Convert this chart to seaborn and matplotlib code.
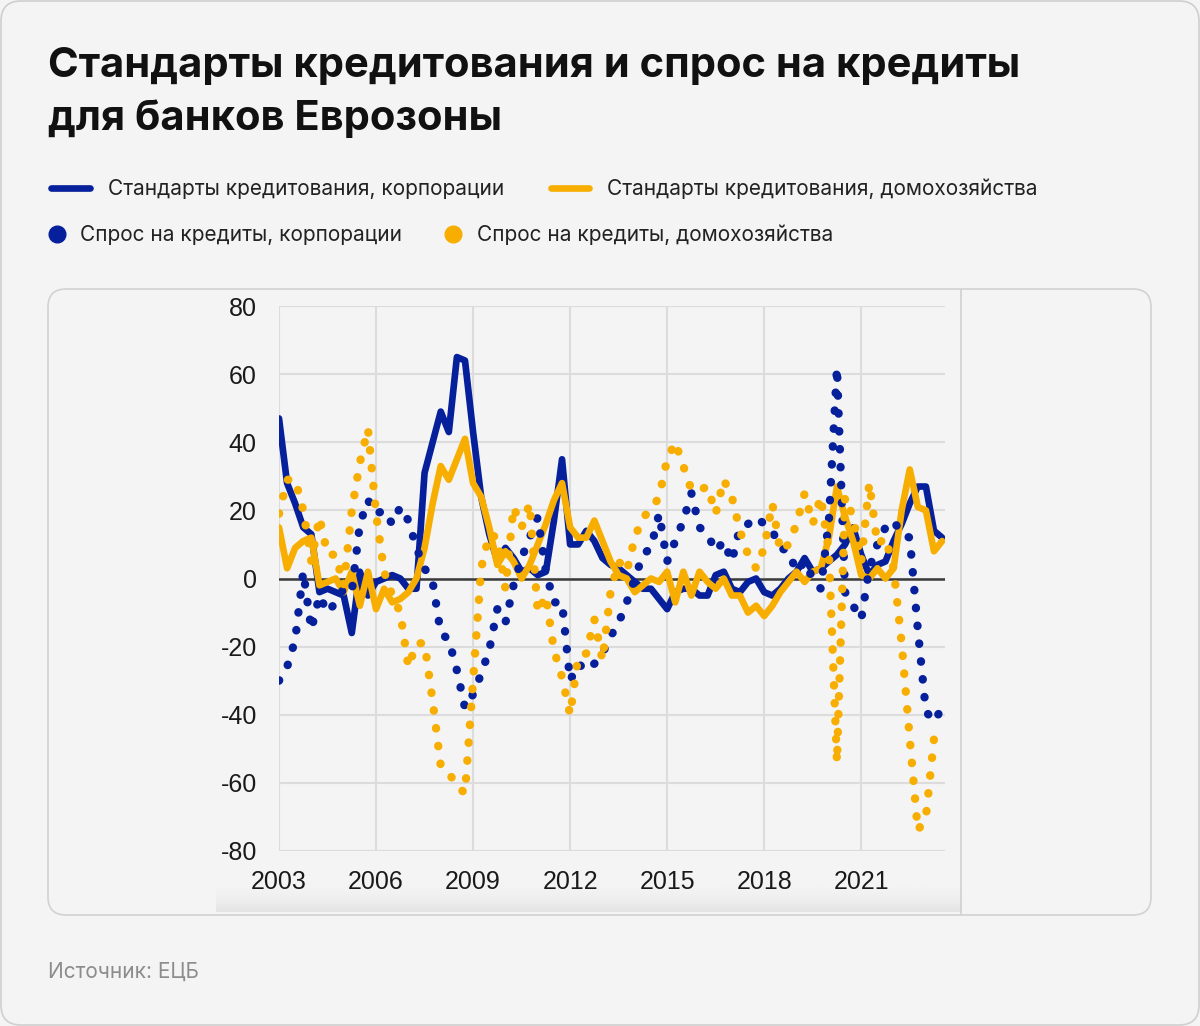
import numpy as np
import pandas as pd
import seaborn as sns
import matplotlib.pyplot as plt
from matplotlib.patches import FancyBboxPatch

# quarterly, 2003Q1 .. 2023Q3 (net percentages, ECB bank lending survey)
quarters = pd.period_range("2003Q1", "2023Q3", freq="Q")
t = np.asarray(quarters.year + (quarters.quarter - 1) / 4.0, dtype=float)

standards_corp = [47, 28, 22, 15, 13, -4, -3, -4, -5, -16, 2, -5, -1, 0, 1, 0,
                  -3, -3, 31, 40, 49, 43, 65, 64, 43, 24, 13, 5, 9, 6, 2, 3,
                  1, 2, 17, 35, 10, 10, 14, 11, 6, 4, 3, 1, -1, -3, -3, -6,
                  -9, -4, -3, -3, -5, -5, 1, 2, -3, -4, -1, 0, -4, -5, -3, 0,
                  2, 6, 2, 3, 5, 7, 10, 15, 7, 1, 4, 5, 11, 16, 22, 27,
                  27, 14, 12]
standards_hh = [15, 3, 9, 11, 12, -2, -1, 0, -4, 2, -8, 2, -9, -3, -7, -6,
                -4, 0, 9, 22, 33, 29, 35, 41, 28, 24, 15, 4, 8, 5, 0, 4,
                10, 16, 23, 28, 15, 12, 12, 17, 11, 5, 1, 0, -4, -2, 0, -1,
                2, -7, 2, -5, 2, -1, -3, 0, -5, -5, -10, -8, -11, -8, -4, -1,
                2, -1, 2, 3, 12, 27, 18, 11, 1, 0, 3, 0, 3, 20, 32, 21,
                20, 8, 11]
demand_corp = [-30, -26, -18, 2, -15, -5, -10, -7, -3, -4, 16, 23, 19, 20, 16, 21,
               17, 9, 3, -1, -16, -18, -27, -38, -34, -28, -21, -9, -13, -2, 6, 12,
               18, 2, -7, -7, -30, -25, -27, -25, -22, -17, -13, -7, 0, 7, 9, 19,
               5, 11, 17, 25, 15, 13, 8, 11, 5, 15, 16, 18, 16, 14, 9, 8,
               2, 5, 0, -3, 17, 62, -4, -8, -12, 3, 10, 15, 17, 13, 12, -15,
               -39, -42, -38]
demand_hh = [19, 29, 29, 20, 5, 18, 7, 7, -2, 20, 34, 44, 19, 2, -5, -10,
             -26, -19, -19, -36, -55, -57, -61, -63, -30, 3, 13, 12, -3, 21, 15, 22,
             -10, -5, -21, -29, -40, -23, -22, -12, -24, -4, 5, 2, 12, 18, 20, 24,
             35, 40, 33, 26, 26, 27, 19, 29, 24, 14, 7, 3, 9, 22, 8, 10,
             16, 25, 16, 24, 8, -54, 24, 18, 5, 28, 10, 12, 3, -19, -47, -74,
             -70, -47, -45]

legend_labels = ["Стандарты кредитования, корпорации",
                 "Стандарты кредитования, домохозяйства",
                 "Спрос на кредиты, корпорации",
                 "Спрос на кредиты, домохозяйства"]
year_ticks = [2003, 2006, 2009, 2012, 2015, 2018, 2021]
value_ticks = list(range(-80, 81, 20))

BLUE = "#06209b"
ORANGE = "#f7ae00"
BG = "#f4f4f4"

sns.set_style("white")
plt.rcParams["font.family"] = ["Inter", "DejaVu Sans"]
plt.rcParams["axes.unicode_minus"] = False

df = pd.DataFrame({"t": t,
                   "std_corp": standards_corp, "std_hh": standards_hh,
                   "dem_corp": demand_corp, "dem_hh": demand_hh})

W, H = 1200, 1026
fig = plt.figure(figsize=(W / 100, H / 100), dpi=100, facecolor=BG)

# background layer in pixel coordinates
bg = fig.add_axes([0, 0, 1, 1])
bg.set_xlim(0, W)
bg.set_ylim(H, 0)
bg.axis("off")
bg.add_patch(FancyBboxPatch((1, 1), W - 2, H - 2, boxstyle="round,pad=0,rounding_size=20",
                            fc=BG, ec="#cfcfcf", lw=1.2))
bg.add_patch(FancyBboxPatch((48, 289), 1103, 626, boxstyle="round,pad=0,rounding_size=18",
                            fc=BG, ec="#d2d2d2", lw=1.2))
# faint shading at the foot of the embedded chart
grad = np.linspace(0, 1, 40).reshape(-1, 1) ** 2
bg.imshow(grad, cmap=plt.matplotlib.colors.LinearSegmentedColormap.from_list(
    "fade", [BG, "#e4e4e4"]), extent=(216, 961, 912, 880), aspect="auto", zorder=1)
bg.set_xlim(0, W)
bg.set_ylim(H, 0)
bg.plot([961, 961], [290, 914], color="#d0d0d0", lw=1.2)

bg.text(48, 66, "Стандарты кредитования и спрос на кредиты", fontsize=30,
        fontweight="bold", color="#111111", va="center")
bg.text(48, 119, "для банков Еврозоны", fontsize=30,
        fontweight="bold", color="#111111", va="center")

# legend
bg.plot([51, 90], [188, 188], color=BLUE, lw=4.8, solid_capstyle="round")
bg.text(108, 189, legend_labels[0], fontsize=15, color="#222222", va="center")
bg.plot([551, 589], [188, 188], color=ORANGE, lw=4.8, solid_capstyle="round")
bg.text(607, 189, legend_labels[1], fontsize=15, color="#222222", va="center")
bg.plot([57], [234], "o", color=BLUE, ms=12)
bg.text(80, 235, legend_labels[2], fontsize=15, color="#222222", va="center")
bg.plot([453], [234], "o", color=ORANGE, ms=12)
bg.text(477, 235, legend_labels[3], fontsize=15, color="#222222", va="center")

bg.text(48, 972, "Источник: ЕЦБ", fontsize=15, color="#8c8c8c", va="center")

# chart
ax = fig.add_axes([279 / W, (H - 851) / H, 666 / W, 545 / H])
ax.set_facecolor("none")

solid = dict(lw=4.8, solid_capstyle="round", solid_joinstyle="round")
dotted = dict(lw=6.0, linestyle=(0, (0.05, 2.1)), dash_capstyle="round")
sns.lineplot(data=df, x="t", y="std_corp", color=BLUE, ax=ax, zorder=3, **solid)
sns.lineplot(data=df, x="t", y="std_hh", color=ORANGE, ax=ax, zorder=4, **solid)
sns.lineplot(data=df, x="t", y="dem_corp", color=BLUE, ax=ax, zorder=5, **dotted)
sns.lineplot(data=df, x="t", y="dem_hh", color=ORANGE, ax=ax, zorder=6, **dotted)

ax.axhline(0, color="#3a3a3a", lw=1.8, zorder=2)
ax.set_xlim(2003, 2023.59)
ax.set_ylim(-80, 80)
ax.set_xticks(year_ticks)
ax.set_xticklabels([str(y) for y in year_ticks])
ax.set_yticks(value_ticks)
ax.set_yticklabels([str(v) for v in value_ticks])
ax.grid(True, color="#dcdcdc", lw=1.5, zorder=1)
ax.set_axisbelow(True)
for s in ax.spines.values():
    s.set_visible(False)
ax.tick_params(length=0, labelsize=18, colors="#1a1a1a")
ax.tick_params(axis="x", pad=14)
ax.tick_params(axis="y", pad=16)
for lab in ax.get_xticklabels() + ax.get_yticklabels():
    lab.set_family("Liberation Sans")
ax.set_xlabel("")
ax.set_ylabel("")

fig.savefig("out.png", dpi=100, facecolor=BG)
